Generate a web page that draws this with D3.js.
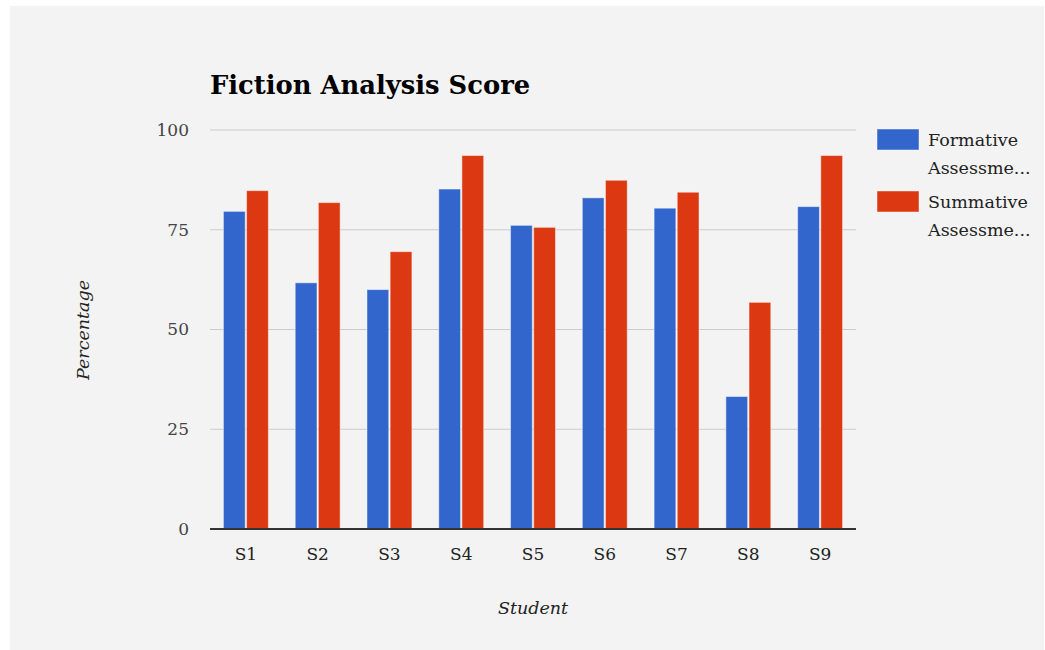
<!DOCTYPE html>
<html>
<head>
<meta charset="utf-8">
<script src="https://cdn.jsdelivr.net/npm/d3@7"></script>
<style>
  body { margin: 0; background: #ffffff; }
  svg text { font-family: "DejaVu Serif", "Liberation Serif", serif; }
</style>
</head>
<body>
<svg id="chart" width="1045" height="650"></svg>
<script>
// data
var students = ['S1', 'S2', 'S3', 'S4', 'S5', 'S6', 'S7', 'S8', 'S9'];
var formative = [79.6, 61.7, 60, 85.2, 76.1, 83, 80.4, 33.2, 80.8];
var summative = [84.8, 81.8, 69.5, 93.6, 75.6, 87.4, 84.4, 56.8, 93.6];
var seriesNames = ['Formative Assessment', 'Summative Assessment'];
var legendLines = [['Formative', 'Assessme...'], ['Summative', 'Assessme...']];
var yTicks = [0, 25, 50, 75, 100];
var colors = ['#3366cc', '#dc3912'];

var svg = d3.select('#chart');

// grey panel
svg.append('rect')
  .attr('x', 10).attr('y', 6)
  .attr('width', 1034).attr('height', 644)
  .attr('fill', '#f3f3f3');

var plotLeft = 210, plotRight = 856, plotTop = 130, plotBottom = 529;

var x = d3.scaleBand().domain(students).range([plotLeft, plotRight]).paddingInner(0).paddingOuter(0);
var x1 = d3.scaleBand().domain([0, 1]).range([0, x.bandwidth()]).paddingInner(0.06).paddingOuter(0.58);
var y = d3.scaleLinear().domain([0, 100]).range([plotBottom, plotTop]);

// gridlines
svg.append('g')
  .selectAll('line')
  .data(yTicks.filter(function(d){ return d > 0; }))
  .enter().append('line')
  .attr('x1', plotLeft).attr('x2', plotRight)
  .attr('y1', function(d){ return y(d); })
  .attr('y2', function(d){ return y(d); })
  .attr('stroke', '#cccccc').attr('stroke-width', 1);

// y tick labels
var yAxis = d3.axisLeft(y).tickValues(yTicks).tickSize(0).tickPadding(21);
var ya = svg.append('g').attr('transform', 'translate(' + plotLeft + ',0)').call(yAxis);
ya.select('.domain').remove();
ya.selectAll('text')
  .attr('font-size', 17)
  .attr('fill', '#444444')
  .style('font-family', '"DejaVu Serif", serif');

// bars
var rows = students.map(function(s, i){ return { name: s, vals: [formative[i], summative[i]] }; });
var groups = svg.append('g').selectAll('g')
  .data(rows).enter().append('g')
  .attr('transform', function(d){ return 'translate(' + x(d.name) + ',0)'; });

groups.selectAll('rect')
  .data(function(d){ return d.vals.map(function(v, k){ return { k: k, v: v }; }); })
  .enter().append('rect')
  .attr('x', function(d){ return x1(d.k); })
  .attr('width', x1.bandwidth())
  .attr('y', function(d){ return y(d.v); })
  .attr('height', function(d){ return y(0) - y(d.v); })
  .attr('fill', function(d){ return colors[d.k]; })
  .attr('stroke', '#ffffff').attr('stroke-opacity', 0.45).attr('stroke-width', 1);

// baseline
svg.append('line')
  .attr('x1', plotLeft).attr('x2', plotRight)
  .attr('y1', y(0)).attr('y2', y(0))
  .attr('stroke', '#333333').attr('stroke-width', 2);

// x tick labels
var xAxis = d3.axisBottom(x).tickSize(0).tickPadding(19);
var xa = svg.append('g').attr('transform', 'translate(0,' + plotBottom + ')').call(xAxis);
xa.select('.domain').remove();
xa.selectAll('text')
  .attr('font-size', 17)
  .attr('fill', '#222222')
  .style('font-family', '"DejaVu Serif", serif');

// title
svg.append('text')
  .attr('x', plotLeft).attr('y', 94)
  .attr('font-size', 25.8).attr('font-weight', 'bold')
  .attr('fill', '#000000')
  .text('Fiction Analysis Score');

// axis titles
svg.append('text')
  .attr('x', (plotLeft + plotRight) / 2).attr('y', 614)
  .attr('text-anchor', 'middle')
  .attr('font-size', 17.5).attr('font-style', 'italic')
  .attr('fill', '#222222')
  .text('Student');

svg.append('text')
  .attr('transform', 'translate(89,330) rotate(-90)')
  .attr('text-anchor', 'middle')
  .attr('font-size', 17.5).attr('font-style', 'italic')
  .attr('fill', '#222222')
  .text('Percentage');

// legend
var legend = svg.append('g').selectAll('g')
  .data(seriesNames).enter().append('g')
  .attr('transform', function(d, i){ return 'translate(877,' + (129 + i * 62) + ')'; });

legend.append('rect')
  .attr('width', 42).attr('height', 21)
  .attr('fill', function(d, i){ return colors[i]; })
  .attr('stroke', '#ffffff').attr('stroke-opacity', 0.45);

legend.append('text')
  .attr('x', 51).attr('y', 17)
  .attr('font-size', 17.5)
  .attr('fill', '#222222')
  .selectAll('tspan')
  .data(function(d, i){ return legendLines[i]; })
  .enter().append('tspan')
  .attr('x', 51)
  .attr('dy', function(d, j){ return j === 0 ? 0 : 28; })
  .text(function(d){ return d; });
</script>
</body>
</html>
